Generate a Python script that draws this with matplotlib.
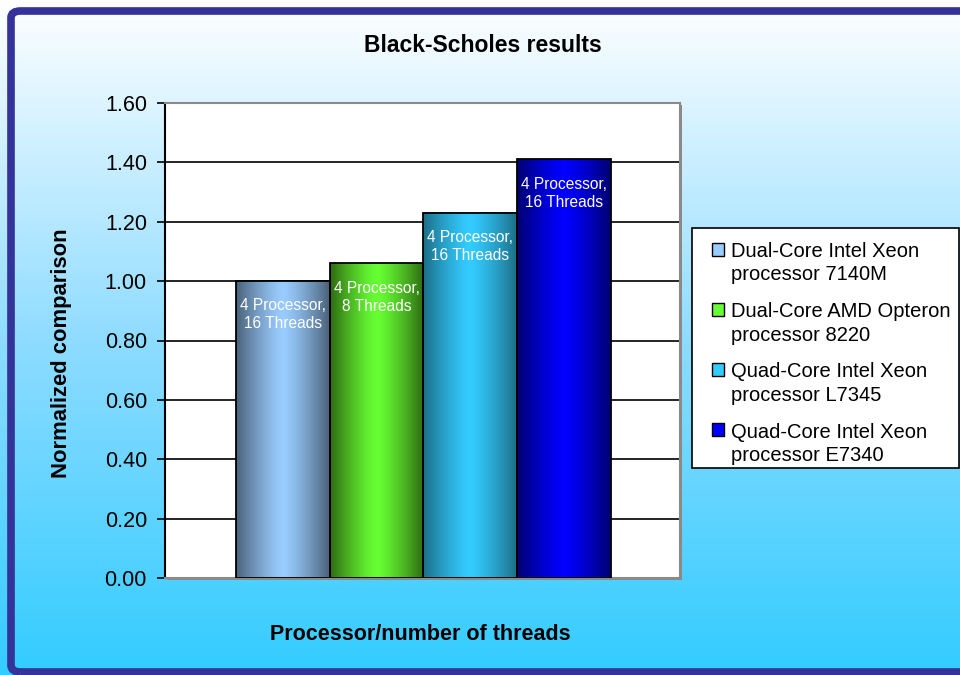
import numpy as np
import matplotlib.pyplot as plt
from matplotlib.colors import LinearSegmentedColormap
from matplotlib.patches import FancyBboxPatch, Rectangle
from matplotlib.legend_handler import HandlerPatch

plt.rcParams['font.family'] = ['Liberation Sans', 'DejaVu Sans']

processors = ["Dual-Core Intel Xeon\nprocessor 7140M",
              "Dual-Core AMD Opteron\nprocessor 8220",
              "Quad-Core Intel Xeon\nprocessor L7345",
              "Quad-Core Intel Xeon\nprocessor E7340"]
scores = [1.00, 1.06, 1.23, 1.41]
bar_labels = ["4 Processor,\n16 Threads", "4 Processor,\n8 Threads",
              "4 Processor,\n16 Threads", "4 Processor,\n16 Threads"]
yticks = [0.0, 0.2, 0.4, 0.6, 0.8, 1.0, 1.2, 1.4, 1.6]

# edge / center colour of each bar's horizontal shading
edge_cols = ["#4a6178", "#2f6a12", "#1c6e88", "#000070"]
mid_cols = ["#99ccff", "#66ff33", "#33ccff", "#0000ff"]

fig = plt.figure(figsize=(9.6, 6.75), dpi=100)

# background gradient, white at the top to sky blue at the bottom
bg = fig.add_axes([0, 0, 1, 1], zorder=-10)
grad = np.linspace(0, 1, 256).reshape(-1, 1)
bg_cmap = LinearSegmentedColormap.from_list("bg", ["#33ccff", "#8fdcff", "#ffffff"])
bg.imshow(grad, aspect="auto", cmap=bg_cmap, origin="lower", extent=[0, 1, 0, 1])
bg.set_xlim(0, 1)
bg.set_ylim(0, 1)
bg.axis("off")

# dark blue outer frame
frame = FancyBboxPatch((11 / 960, 3 / 675), 1.05, 661 / 675,
                       boxstyle="round,pad=0,rounding_size=0.01",
                       transform=fig.transFigure, fill=False,
                       edgecolor="#333399", linewidth=5.5, clip_on=False)
fig.patches.append(frame)

ax = fig.add_axes([165 / 960, 97 / 675, 515 / 960, 475 / 675])

# shadow behind the plot area
shadow = Rectangle((167 / 960, 95 / 675), 515 / 960, 475 / 675,
                   transform=fig.transFigure, facecolor="#8a8a8a",
                   edgecolor="none", zorder=-5)
fig.patches.append(shadow)

x = np.arange(len(scores))
bars = ax.bar(x, scores, width=1.0, color="none", edgecolor="black",
              linewidth=1.3, zorder=3)

shade = np.abs(np.linspace(-1, 1, 200)) ** 1.3
for i, b in enumerate(bars):
    cm = LinearSegmentedColormap.from_list("c%d" % i, [mid_cols[i], edge_cols[i]])
    ax.imshow(shade.reshape(1, -1), cmap=cm, aspect="auto", zorder=2,
              extent=[b.get_x(), b.get_x() + b.get_width(), 0, b.get_height()])
    ax.annotate(bar_labels[i], (b.get_x() + b.get_width() / 2, b.get_height()),
                xytext=(0, -12.5), textcoords="offset points", ha="center",
                va="top", color="white", fontsize=11.2, zorder=4,
                linespacing=1.25)

ax.set_xlim(-1.255, 4.234)
ax.set_ylim(0, 1.6)
ax.set_yticks(yticks)
ax.set_yticklabels(["%.2f" % v for v in yticks], fontsize=15.5)
ax.tick_params(axis="y", direction="out", length=6, width=1.2, pad=7)
ax.set_xticks([])
ax.yaxis.grid(True, color="black", linewidth=1.2, zorder=0)
ax.set_axisbelow(True)
ax.set_facecolor("white")
for s in ["top", "right", "bottom"]:
    ax.spines[s].set_color("#8a8a8a")
    ax.spines[s].set_linewidth(1.5)
ax.spines["left"].set_linewidth(1.5)

fig.text(483 / 960, 1 - 45 / 675, "Black-Scholes results", ha="center",
         va="center", fontsize=16.5, fontweight="bold")
fig.text(62 / 960, 1 - 353 / 675, "Normalized comparison", ha="center",
         va="center", rotation=90, fontsize=15.8, fontweight="bold")
fig.text(420 / 960, 1 - 634 / 675, "Processor/number of threads",
         ha="center", va="center", fontsize=15.5, fontweight="bold")

# legend box drawn separately so the padding can match
leg_box = Rectangle((692 / 960, 1 - 468 / 675), 267 / 960, 240 / 675,
                    transform=fig.transFigure, facecolor="white",
                    edgecolor="black", linewidth=1.2, zorder=5)
fig.patches.append(leg_box)


def top_square(legend, orig_handle, xdescent, ydescent, width, height, fontsize):
    # put the key square next to the first line of the label
    return Rectangle((-xdescent, -ydescent + 0.72 * fontsize), width, height)


handles = [Rectangle((0, 0), 1, 1, facecolor=mid_cols[i],
                     edgecolor="black", linewidth=1) for i in range(4)]
leg = fig.legend(handles, processors, loc="upper left",
                 bbox_to_anchor=(712 / 960, 1 - 242 / 675),
                 fontsize=14.5, frameon=False,
                 handlelength=0.6, handleheight=0.6, handletextpad=0.35,
                 labelspacing=0.88, borderpad=0, borderaxespad=0,
                 handler_map={Rectangle: HandlerPatch(patch_func=top_square)})
leg.set_zorder(6)
for t in leg.get_texts():
    t.set_linespacing(1.3)

fig.savefig("out.png", dpi=100)
